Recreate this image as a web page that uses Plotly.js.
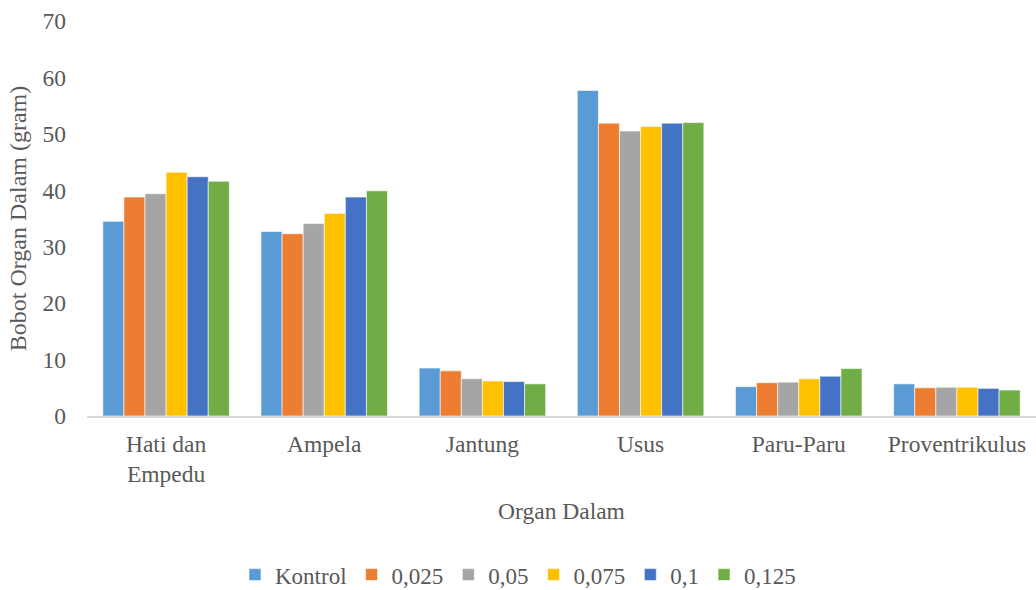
<!DOCTYPE html>
<html>
<head>
<meta charset="utf-8">
<script src="https://cdn.plot.ly/plotly-3.0.1.min.js"></script>
<style>html,body{margin:0;padding:0;background:#fff;}#chart{width:1036px;height:590px;}</style>
</head>
<body>
<div id="chart"></div>
<script>
const categories = ["Hati dan<br>Empedu", "Ampela", "Jantung", "Usus", "Paru-Paru", "Proventrikulus"];
const seriesNames = ["Kontrol", "0,025", "0,05", "0,075", "0,1", "0,125"];
const kontrol = [34.5, 32.7, 8.5, 57.7, 5.2, 5.7];
const d0025 = [38.8, 32.3, 8.0, 51.9, 5.9, 5.0];
const d005 = [39.4, 34.1, 6.6, 50.5, 6.0, 5.1];
const d0075 = [43.2, 35.9, 6.2, 51.3, 6.6, 5.1];
const d01 = [42.4, 38.8, 6.1, 51.9, 7.05, 4.9];
const d0125 = [41.6, 39.9, 5.7, 52.0, 8.4, 4.6];
const yTicks = [0, 10, 20, 30, 40, 50, 60, 70];

const seriesValues = [kontrol, d0025, d005, d0075, d01, d0125];
const colors = ["#5B9BD5", "#ED7D31", "#A5A5A5", "#FFC000", "#4472C4", "#70AD47"];

const traces = seriesNames.map((name, i) => ({
  type: "bar",
  name: name,
  x: categories,
  y: seriesValues[i],
  marker: {color: colors[i], line: {color: "#ffffff", width: 0.6}},
  hoverinfo: "x+y+name"
}));

const c = "#595959";
const fam = "Liberation Serif";

const layout = {
  width: 1036,
  height: 590,
  margin: {l: 87, r: 0, t: 21, b: 174},
  paper_bgcolor: "#ffffff",
  plot_bgcolor: "#ffffff",
  barmode: "group",
  bargap: 0.2,
  bargroupgap: 0,
  font: {family: fam, size: 24, color: c},
  xaxis: {
    showgrid: false,
    showline: true,
    linecolor: "#d9d9d9",
    linewidth: 1.5,
    ticks: "",
    tickfont: {family: fam, size: 23.5, color: c},
    ticklabelstandoff: 6,
    title: {text: "Organ Dalam", font: {family: fam, size: 23.5, color: c}, standoff: 16},
    automargin: false
  },
  yaxis: {
    range: [0, 70],
    tickvals: yTicks,
    ticktext: yTicks.map(String),
    showgrid: false,
    zeroline: false,
    showline: false,
    ticks: "",
    ticklen: 0,
    ticklabelstandoff: 20,
    tickfont: {family: fam, size: 23.5, color: c},
    title: {text: "Bobot Organ Dalam (gram)", font: {family: fam, size: 24, color: c}, standoff: 9},
    automargin: false
  },
  legend: {
    orientation: "h",
    xref: "container",
    yref: "container",
    x: 0.5,
    xanchor: "center",
    y: 0.026,
    yanchor: "middle",
    font: {family: fam, size: 23, color: c},
    itemwidth: 30,
    tracegroupgap: 0
  },
  showlegend: true
};

Plotly.newPlot("chart", traces, layout, {displayModeBar: false, staticPlot: true});
</script>
</body>
</html>
